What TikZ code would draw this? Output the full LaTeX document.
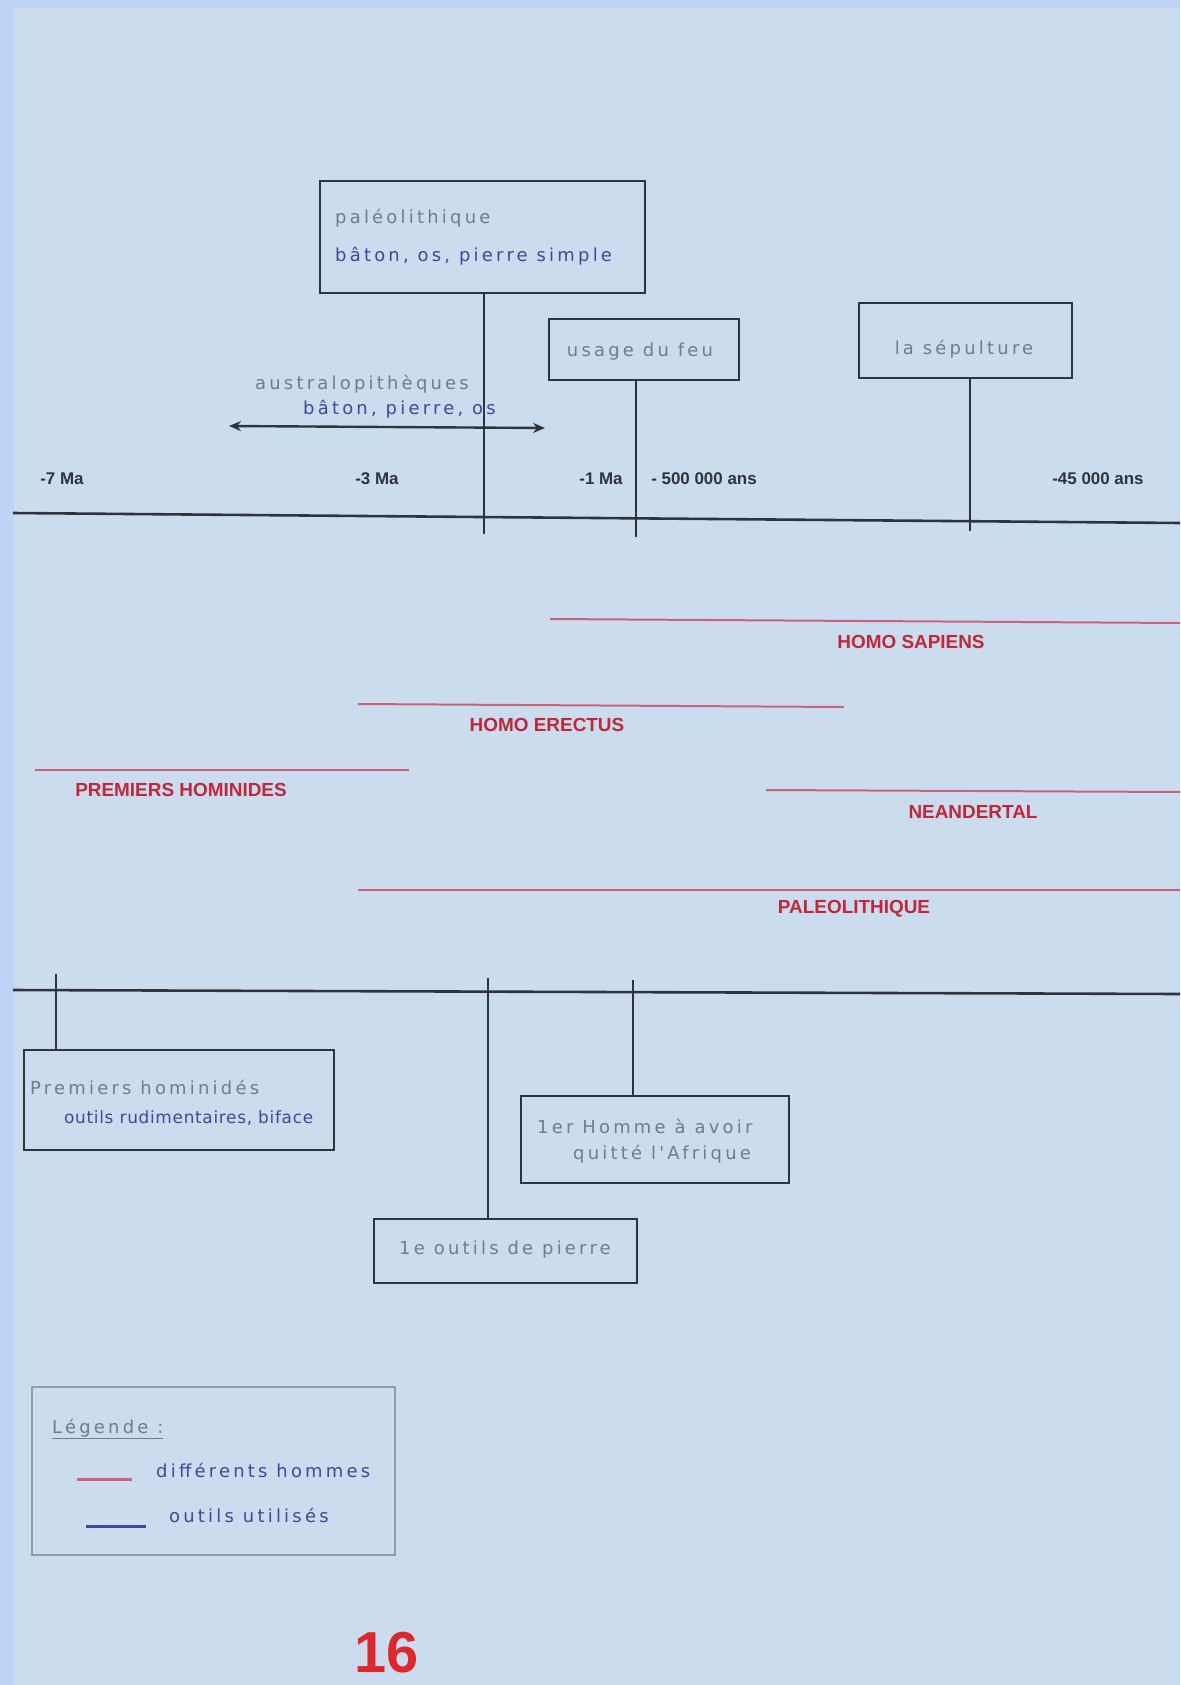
\documentclass[tikz,border=0pt]{standalone}
\usepackage{fontspec}
\setmainfont{DejaVu Sans}
\newfontfamily\hand[LetterSpace=18]{DejaVu Sans}
\newfontfamily\handtight[LetterSpace=4]{DejaVu Sans}
\newfontfamily\marker{Liberation Sans}
\usetikzlibrary{arrows.meta}

\definecolor{paper}{RGB}{203,220,239}
\definecolor{paperedge}{RGB}{190,212,244}
\definecolor{ink}{RGB}{48,50,60}
\definecolor{pencil}{RGB}{112,122,145}
\definecolor{bluepen}{RGB}{62,72,160}
\definecolor{redpen}{RGB}{192,40,58}
\definecolor{redline}{RGB}{200,100,120}
\definecolor{pagered}{RGB}{222,40,48}
\definecolor{legendgray}{RGB}{145,155,172}

\tikzset{
  eventbox/.style={draw=ink, line width=2.6pt, inner sep=0pt},
  stem/.style={draw=ink, line width=2.4pt},
  axis/.style={draw=ink, line width=2.6pt},
  periodline/.style={draw=redline, line width=2pt},
  periodlabel/.style={text=redpen, inner sep=0pt, font=\marker\bfseries\fontsize{19}{19}\selectfont},
  datelabel/.style={text=ink, inner sep=0pt, font=\marker\bfseries\fontsize{17}{17}\selectfont},
  grayhand/.style={text=pencil, inner sep=0pt, font=\hand\fontsize{18}{18}\selectfont},
  bluehand/.style={text=bluepen, inner sep=0pt, font=\hand\fontsize{18}{18}\selectfont},
}

\begin{document}
\begin{tikzpicture}[x=1bp,y=-1bp]

\fill[paper] (0,0) rectangle (1180,1685);
\fill[paperedge] (0,0) rectangle (14,1685);
\fill[paperedge] (0,0) rectangle (1180,8);
\useasboundingbox (0,0) rectangle (1180,1685);

% frise du haut
\coordinate (top-l) at (13,513);
\coordinate (top-r) at (1180,523);
\draw[axis] (top-l) -- (top-r);

\node[datelabel] (d7) at (62,479) {-7 Ma};
\node[datelabel] (d3) at (377,479) {-3 Ma};
\node[datelabel] (d1) at (601,479) {-1 Ma};
\node[datelabel] (d500) at (704,479) {- 500 000 ans};
\node[datelabel] (d45) at (1098,479) {-45 000 ans};

% evenements du haut
\node[eventbox, minimum width=325bp, minimum height=112bp] (paleo) at (482.5,237) {};
\node[grayhand, anchor=west] (paleo-a) at (335,218) {paléolithique};
\node[bluehand, anchor=west] (paleo-b) at (335,256) {bâton, os, pierre simple};
\coordinate (paleo-t) at (484,534);
\draw[stem] (paleo.south -| paleo-t) -- (paleo-t);

\node[eventbox, minimum width=190bp, minimum height=61bp] (feu) at (644,349.5) {};
\node[grayhand] (feu-a) at (640,352) {usage du feu};
\coordinate (feu-t) at (636,537);
\draw[stem] (feu.south -| feu-t) -- (feu-t);

\node[eventbox, minimum width=213bp, minimum height=75bp] (sepul) at (965.5,340.5) {};
\node[grayhand] (sepul-a) at (964,349) {la sépulture};
\coordinate (sepul-t) at (970,531);
\draw[stem] (sepul.south -| sepul-t) -- (sepul-t);

% australopitheques
\coordinate (aus-l) at (229,426);
\coordinate (aus-r) at (545,428);
\draw[ink, line width=2.4pt, {Stealth[length=12pt,width=10pt]}-{Stealth[length=12pt,width=10pt]}] (aus-l) -- (aus-r);
\node[grayhand] (aus-a) at (362,384) {australopithèques};
\node[bluehand, anchor=west] (aus-b) at (303,409) {bâton, pierre, os};

% les differents hommes
\coordinate (sap-l) at (550,619);
\coordinate (sap-r) at (1180,623);
\draw[periodline] (sap-l) -- (sap-r);
\node[periodlabel] (sap) at (911,642) {HOMO SAPIENS};

\coordinate (ere-l) at (358,704);
\coordinate (ere-r) at (844,707);
\draw[periodline] (ere-l) -- (ere-r);
\node[periodlabel] (ere) at (547,725) {HOMO ERECTUS};

\coordinate (hom-l) at (35,770);
\coordinate (hom-r) at (409,770);
\draw[periodline] (hom-l) -- (hom-r);
\node[periodlabel] (hom) at (181,790) {PREMIERS HOMINIDES};

\coordinate (nea-l) at (766,790);
\coordinate (nea-r) at (1180,792);
\draw[periodline] (nea-l) -- (nea-r);
\node[periodlabel] (nea) at (973,812) {NEANDERTAL};

\coordinate (pal-l) at (358,890);
\coordinate (pal-r) at (1180,890);
\draw[periodline] (pal-l) -- (pal-r);
\node[periodlabel] (pal) at (854,909) {PALEOLITHIQUE};

% frise du bas
\coordinate (bot-l) at (13,990);
\coordinate (bot-r) at (1180,994);
\draw[axis] (bot-l) -- (bot-r);

\node[eventbox, minimum width=310bp, minimum height=100bp] (prem) at (179,1100) {};
\node[grayhand, anchor=west] (prem-a) at (30,1087) {Premiers hominidés};
\node[bluehand, anchor=west, font=\handtight\fontsize{17}{17}\selectfont] (prem-b) at (64,1118) {outils rudimentaires, biface};
\coordinate (prem-t) at (56,974);
\draw[stem] (prem-t) -- (prem.north -| prem-t);

\node[eventbox, minimum width=268bp, minimum height=87bp] (afr) at (655,1139.5) {};
\node[grayhand, anchor=west] (afr-a) at (537,1126) {1er Homme à avoir};
\node[grayhand, anchor=west] (afr-b) at (573,1154) {quitté l'Afrique};
\coordinate (afr-t) at (633,980);
\draw[stem] (afr-t) -- (afr.north -| afr-t);

\node[eventbox, minimum width=263bp, minimum height=64bp] (pier) at (505.5,1251) {};
\node[grayhand] (pier-a) at (505,1250) {1e outils de pierre};
\coordinate (pier-t) at (488,978);
\draw[stem] (pier-t) -- (pier.north -| pier-t);

% legende
\node[draw=legendgray, line width=2pt, minimum width=363bp, minimum height=168bp] (legend) at (213.5,1471) {};
\node[grayhand, anchor=west] (leg-title) at (52,1429) {\underline{Légende :}};
\draw[redline, line width=3pt] (77,1479) -- (132,1479);
\node[bluehand, anchor=west] (leg-red) at (156,1470) {différents hommes};
\draw[bluepen, line width=3pt] (86,1526) -- (146,1526);
\node[bluehand, anchor=west] (leg-blue) at (169,1515) {outils utilisés};

\node[text=pagered, inner sep=0pt, font=\marker\bfseries\fontsize{58}{58}\selectfont] (page) at (387,1653) {16};

\end{tikzpicture}
\end{document}
